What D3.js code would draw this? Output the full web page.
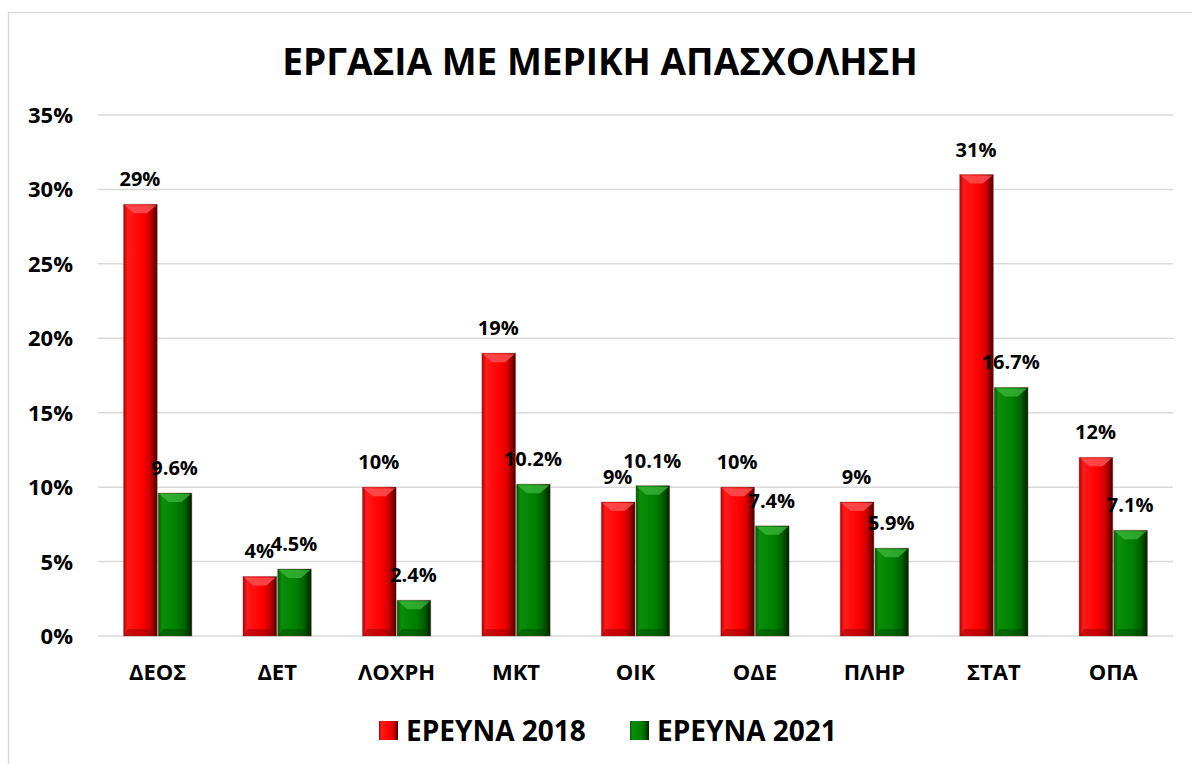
<!DOCTYPE html>
<html>
<head>
<meta charset="utf-8">
<script src="https://cdn.jsdelivr.net/npm/d3@7"></script>
<style>
  body { margin: 0; background: #fff; }
  svg { display: block; font-family: "Open Sans", sans-serif; }
</style>
</head>
<body>
<script>
var categories = ["ΔΕΟΣ", "ΔΕΤ", "ΛΟΧΡΗ", "ΜΚΤ", "ΟΙΚ", "ΟΔΕ", "ΠΛΗΡ", "ΣΤΑΤ", "ΟΠΑ"];
var series = ["ΕΡΕΥΝΑ 2018", "ΕΡΕΥΝΑ 2021"];
var values2018 = [29, 4, 10, 19, 9, 10, 9, 31, 12];
var values2021 = [9.6, 4.5, 2.4, 10.2, 10.1, 7.4, 5.9, 16.7, 7.1];
var yTicks = [0, 5, 10, 15, 20, 25, 30, 35];

chart();

function chart() {

var width = 1192, height = 764;
var plotLeft = 98, plotRight = 1173, plotTop = 115, plotBottom = 636;

var svg = d3.select("body").append("svg")
    .attr("width", width)
    .attr("height", height);

var defs = svg.append("defs");
var colors = [
  { id: "gRed", stops: ["#b30000", "#ff1a1a", "#ff0000", "#d00000", "#4a0000"] },
  { id: "gGreen", stops: ["#005c00", "#0a8f0a", "#008000", "#006400", "#002200"] }
];
colors.forEach(function(c) {
  var g = defs.append("linearGradient").attr("id", c.id)
      .attr("x1", 0).attr("x2", 1).attr("y1", 0).attr("y2", 0);
  var offs = [0, 0.12, 0.55, 0.78, 1];
  c.stops.forEach(function(s, i) {
    g.append("stop").attr("offset", offs[i]).attr("stop-color", s);
  });
});

// frame
svg.append("rect")
    .attr("x", 8.5).attr("y", 12.5)
    .attr("width", 1300).attr("height", 900)
    .attr("fill", "none")
    .attr("stroke", "#d9d9d9")
    .attr("stroke-width", 1.5);

svg.append("text")
    .attr("x", 600).attr("y", 75)
    .attr("text-anchor", "middle")
    .style("font-size", "37px")
    .style("font-weight", "bold")
    .text("ΕΡΓΑΣΙΑ ΜΕ ΜΕΡΙΚΗ ΑΠΑΣΧΟΛΗΣΗ");

var y = d3.scaleLinear().domain([0, 35]).range([plotBottom, plotTop]);
var x0 = d3.scaleBand().domain(categories).range([plotLeft, plotRight])
    .paddingInner(0.42).paddingOuter(0.21);
var x1 = d3.scaleBand().domain(series).range([0, x0.bandwidth()]);

// grid
svg.append("g").selectAll("line")
  .data(yTicks)
  .join("line")
    .attr("x1", plotLeft).attr("x2", plotRight)
    .attr("y1", d => y(d)).attr("y2", d => y(d))
    .attr("stroke", "#d9d9d9")
    .attr("stroke-width", 1.5);

svg.append("g").selectAll("text")
  .data(yTicks)
  .join("text")
    .attr("x", 73).attr("y", d => y(d) + 8)
    .attr("text-anchor", "end")
    .style("font-size", "22px")
    .style("font-weight", "bold")
    .text(d => d + "%");

svg.append("g").selectAll("text")
  .data(categories)
  .join("text")
    .attr("x", d => x0(d) + x0.bandwidth() / 2)
    .attr("y", 680)
    .attr("text-anchor", "middle")
    .style("font-size", "22px")
    .style("font-weight", "bold")
    .text(d => d);

var rows = [];
categories.forEach(function(c, i) {
  rows.push({ cat: c, s: series[0], v: values2018[i], fill: "url(#gRed)", hi: "#ff5a5a", lo: "#8a0000", label: d3.format(".0f")(values2018[i]) + "%" });
  rows.push({ cat: c, s: series[1], v: values2021[i], fill: "url(#gGreen)", hi: "#3cb83c", lo: "#004000", label: d3.format(".1f")(values2021[i]) + "%" });
});

var bars = svg.append("g").selectAll("g")
  .data(rows)
  .join("g")
    .attr("transform", d => `translate(${x0(d.cat) + x1(d.s)},0)`);

var bw = x1.bandwidth() - 1;

bars.append("rect")
    .attr("x", 0.5)
    .attr("y", d => y(d.v))
    .attr("width", bw)
    .attr("height", d => y(0) - y(d.v))
    .attr("fill", d => d.fill)
    .attr("stroke", "#7a2a2a")
    .attr("stroke-opacity", 0.35);

// top bevel highlight
bars.append("path")
    .attr("d", function(d) {
      var t = y(d.v), w = bw;
      return `M${1.5},${t + 1}L${w - 0.5},${t + 1}L${w / 2 + 7},${t + 9}L${w / 2 - 6},${t + 9}Z`;
    })
    .attr("fill", d => d.hi)
    .attr("opacity", 0.75);

// bottom bevel shade
bars.append("path")
    .attr("d", function(d) {
      var b = y(0), w = bw;
      return `M${1.5},${b}L${w - 0.5},${b}L${w - 4},${b - 7}L${5},${b - 7}Z`;
    })
    .attr("fill", d => d.lo)
    .attr("opacity", 0.45);

bars.append("text")
    .attr("x", bw / 2)
    .attr("y", d => y(d.v) - 18)
    .attr("text-anchor", "middle")
    .style("font-size", "20px")
    .style("font-weight", "bold")
    .text(d => d.label);

// legend
var legend = svg.append("g").selectAll("g")
  .data(series)
  .join("g")
    .attr("transform", (d, i) => `translate(${i === 0 ? 379 : 630},721)`);

legend.append("rect")
    .attr("width", 19).attr("height", 19)
    .attr("fill", (d, i) => i === 0 ? "url(#gRed)" : "url(#gGreen)");

legend.append("text")
    .attr("x", 27).attr("y", 20)
    .style("font-size", "28px")
    .style("font-weight", "bold")
    .text(d => d);
}
</script>
</body>
</html>
